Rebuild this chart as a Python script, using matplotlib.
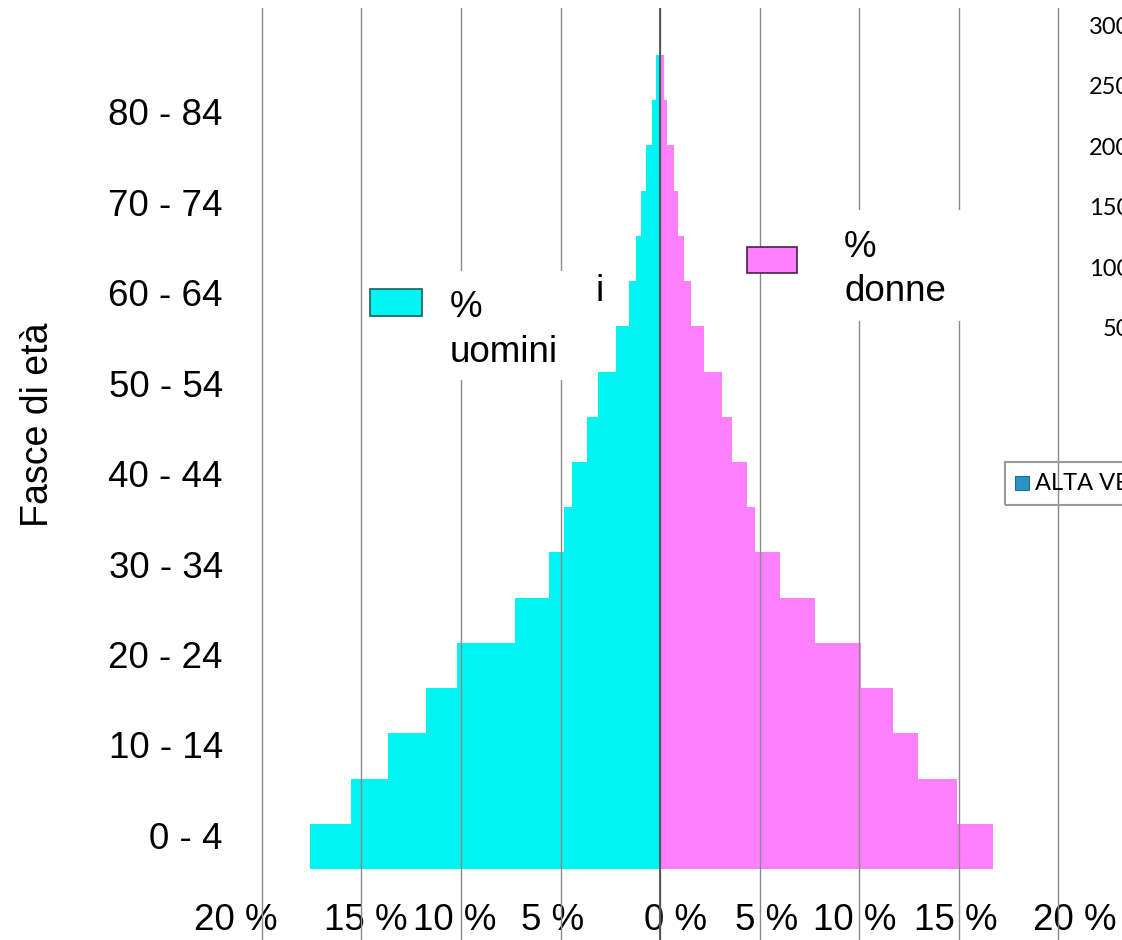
import matplotlib.pyplot as plt
from matplotlib.patches import Rectangle
from matplotlib.transforms import ScaledTranslation

# Piramide delle età: percentuale per fascia quinquennale
fasce = ["0 - 4", "5 - 9", "10 - 14", "15 - 19", "20 - 24", "25 - 29",
         "30 - 34", "35 - 39", "40 - 44", "45 - 49", "50 - 54", "55 - 59",
         "60 - 64", "65 - 69", "70 - 74", "75 - 79", "80 - 84", "85 +"]
uomini = [17.57, 15.53, 13.67, 11.74, 10.22, 7.31, 5.56, 4.81, 4.41,
          3.65, 3.12, 2.23, 1.54, 1.23, 0.94, 0.70, 0.40, 0.19]
donne = [16.75, 14.91, 12.96, 11.71, 10.10, 7.79, 6.03, 4.79, 4.37,
         3.64, 3.10, 2.21, 1.54, 1.22, 0.90, 0.72, 0.37, 0.20]
x_ticks = [-20, -15, -10, -5, 0, 5, 10, 15, 20]
scala_dx = ["300", "250", "200", "150", "100", "50"]

# piccoli spostamenti orizzontali delle etichette (pixel)
x_label_shift = [-26, 4, -6, -8, 16, 7, -4, -3, 17]

COL_U = "#00F4F2"
COL_D = "#FF80FF"
W, H = 1122, 940
FONT = "Liberation Sans"


def fx(px):
    return px / W


def fy(py):
    return 1 - py / H


fig = plt.figure(figsize=(W / 100, H / 100), dpi=100)
fig.patch.set_facecolor("white")

# axes geometry in pixels
px_per_pct = 19.9
x0_px = 660
top_px, bot_px = 8, 940
bar_top, bar_bot = 55, 869
xl = (-20.5, 20.5)
left_px = x0_px + xl[0] * px_per_pct
ax = fig.add_axes([fx(left_px), 0, (xl[1] - xl[0]) * px_per_pct / W,
                   (bot_px - top_px) / H])

n = len(fasce)
unit = (bar_bot - bar_top) / n
ypos = list(range(n))
ax.barh(ypos, [-v for v in uomini], height=1.0, color=COL_U,
        edgecolor="none", linewidth=0, zorder=2)
ax.barh(ypos, donne, height=1.0, color=COL_D,
        edgecolor="none", linewidth=0, zorder=2)

ax.set_xlim(*xl)
ax.set_ylim(-0.5 - (bot_px - bar_bot) / unit, n - 0.5 + (bar_top - top_px) / unit)

for t in x_ticks:
    ax.axvline(t, color="#8a8a8a", linewidth=1.0, zorder=3)
ax.axvline(0, color="#505050", linewidth=1.3, zorder=4)

ax.set_xticks(x_ticks, [f"{abs(t)} %" for t in x_ticks])
ax.set_yticks(ypos[::2], fasce[::2])
ax.tick_params(axis="x", length=0, pad=-27, labelsize=26.5)
ax.tick_params(axis="y", length=0, pad=21, labelsize=26.5)
for lab, dx in zip(ax.get_xticklabels(), x_label_shift):
    lab.set_fontfamily(FONT)
    lab.set_transform(lab.get_transform() + ScaledTranslation(dx / 100, 0, fig.dpi_scale_trans))
for lab in ax.get_yticklabels():
    lab.set_fontfamily(FONT)
    lab.set_transform(lab.get_transform() + ScaledTranslation(0, 11 / 100, fig.dpi_scale_trans))
for s in ax.spines.values():
    s.set_visible(False)

fig.text(fx(38), fy(425), "Fasce di età", rotation=90, ha="center",
         va="center", fontsize=27, family=FONT)

# legenda: riquadri bianchi che coprono la griglia
fig.add_artist(Rectangle((fx(435), fy(380)), fx(597 - 435), (380 - 271) / H,
                         facecolor="white", edgecolor="none", zorder=5))
fig.add_artist(Rectangle((fx(800), fy(321)), fx(1040 - 800), (321 - 210) / H,
                         facecolor="white", edgecolor="none", zorder=5))
fig.add_artist(Rectangle((fx(370), fy(316)), fx(52), 27 / H,
                         facecolor=COL_U, edgecolor="#1b5c5c", linewidth=1.2, zorder=6))
fig.add_artist(Rectangle((fx(747), fy(273)), fx(50), 26 / H,
                         facecolor=COL_D, edgecolor="#4a1f4a", linewidth=1.2, zorder=6))
fig.text(fx(450), fy(317), "%", fontsize=26.5, family=FONT, va="baseline", zorder=7)
fig.text(fx(450), fy(362), "uomini", fontsize=26.5, family=FONT, va="baseline", zorder=7)
fig.text(fx(596), fy(301), "i", fontsize=26.5, family=FONT, va="baseline", zorder=7)
fig.text(fx(844), fy(257), "%", fontsize=26.5, family=FONT, va="baseline", zorder=7)
fig.text(fx(844), fy(301), "donne", fontsize=26.5, family=FONT, va="baseline", zorder=7)

# scala del grafico sottostante, tagliata dal bordo
for i, s in enumerate(scala_dx):
    fig.text(fx(1130), fy(27 + i * 60.6), s, ha="right", va="center",
             fontsize=17, family="Lato", zorder=7)

fig.add_artist(Rectangle((fx(1005), fy(505)), fx(130), 43 / H,
                         facecolor="none", edgecolor="#9a9a9a", linewidth=1.5, zorder=7))
fig.add_artist(Rectangle((fx(1015), fy(490)), fx(14), 14 / H,
                         facecolor="#2a94c4", edgecolor="#1d6e99", linewidth=0.8, zorder=7))
fig.text(fx(1035), fy(484), "ALTA VE", va="center", fontsize=17, family="Lato", zorder=7)

fig.savefig("out.png", dpi=100)
